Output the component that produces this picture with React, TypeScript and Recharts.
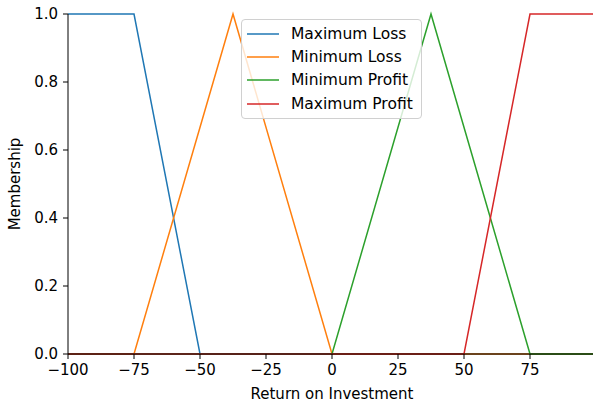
import React from 'react';
import { LineChart, Line, XAxis, YAxis } from 'recharts';

const seriesNames = ['Maximum Loss', 'Minimum Loss', 'Minimum Profit', 'Maximum Profit'];
const seriesColors = ['#1f77b4', '#ff7f0e', '#2ca02c', '#d62728'];

const maxLossX = [-100, -75, -50, 100];
const maxLossY = [1, 1, 0, 0];
const minLossX = [-100, -75, -37.5, 0, 100];
const minLossY = [0, 0, 1, 0, 0];
const minProfitX = [-100, 0, 37.5, 75, 100];
const minProfitY = [0, 0, 1, 0, 0];
const maxProfitX = [-100, 50, 75, 100];
const maxProfitY = [0, 0, 1, 1];

const xTicks = [-100, -75, -50, -25, 0, 25, 50, 75];
const yTicks = [0, 0.2, 0.4, 0.6, 0.8, 1.0];

const build = (xs: number[], ys: number[]) => xs.map((x, i) => ({ x, y: ys[i] }));
const seriesData = [
  build(maxLossX, maxLossY),
  build(minLossX, minLossY),
  build(minProfitX, minProfitY),
  build(maxProfitX, maxProfitY),
];

const FONT = '"DejaVu Sans", sans-serif';
const FS = 15;

const fmtX = (v: number) => (v < 0 ? '\u2212' + Math.abs(v) : String(v));

const LegendBox = () => (
  <div
    style={{
      position: 'absolute',
      left: 241,
      top: 19,
      boxSizing: 'border-box',
      border: '1px solid #d0d0d0',
      borderRadius: 4,
      background: 'rgba(255,255,255,0.8)',
      padding: '2px 4px 2px 5px',
      fontFamily: FONT,
      fontSize: 15.5,
      color: '#000',
      width: 181,
    }}
  >
    {seriesNames.map((n, i) => (
      <div key={n} style={{ display: 'flex', alignItems: 'center', height: 23.4, whiteSpace: 'nowrap' }}>
        <svg width={32} height={4} style={{ marginRight: 12, flex: 'none' }}>
          <line x1={0} y1={2} x2={32} y2={2} stroke={seriesColors[i]} strokeWidth={1.5} />
        </svg>
        <span>{n}</span>
      </div>
    ))}
  </div>
);

export default function App() {
  return (
    <div style={{ position: 'absolute', left: 0, top: 0, width: 593, height: 405, background: '#fff', overflow: 'hidden' }}>
      <LineChart width={593} height={405} margin={{ top: 14, right: -3, bottom: 0, left: 0 }}>
        <XAxis
          type="number"
          dataKey="x"
          domain={[-100, 100]}
          ticks={xTicks}
          tickFormatter={fmtX}
          allowDataOverflow
          height={51}
          stroke="#000"
          tickSize={5}
          tick={{ fill: '#000', fontSize: FS, fontFamily: FONT }}
          tickMargin={5}
          label={{ value: 'Return on Investment', position: 'insideBottom', offset: 6, fill: '#000', fontSize: FS, fontFamily: FONT }}
        />
        <YAxis
          type="number"
          dataKey="y"
          domain={[0, 1]}
          ticks={yTicks}
          tickFormatter={(v: number) => v.toFixed(1)}
          width={68}
          stroke="#000"
          tickSize={5}
          tick={{ fill: '#000', fontSize: FS, fontFamily: FONT }}
          tickMargin={5}
          label={{ value: 'Membership', angle: -90, position: 'insideLeft', offset: 15, fill: '#000', fontSize: FS, fontFamily: FONT, style: { textAnchor: 'middle' } }}
        />
        {seriesData.map((d, i) => (
          <Line
            key={seriesNames[i]}
            data={d}
            dataKey="y"
            name={seriesNames[i]}
            stroke={seriesColors[i]}
            strokeWidth={1.5}
            dot={false}
            activeDot={false}
            isAnimationActive={false}
            type="linear"
          />
        ))}
      </LineChart>
      <LegendBox />
    </div>
  );
}
